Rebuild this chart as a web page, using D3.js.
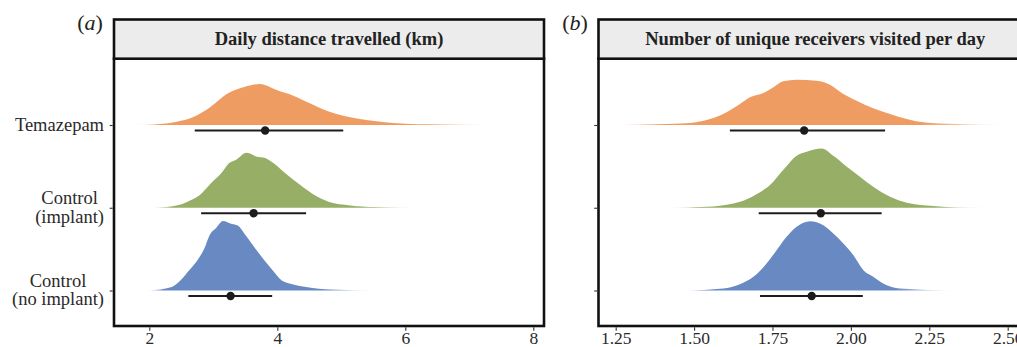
<!DOCTYPE html>
<html><head><meta charset="utf-8">
<script src="https://cdn.jsdelivr.net/npm/d3@7"></script>
<style>html,body{margin:0;padding:0;background:#fff;overflow:hidden}</style>
</head><body><svg id="c" width="1017" height="347"></svg>
<script>
// ---------- data ----------
const categories = ["Temazepam", "Control\n(implant)", "Control\n(no implant)"];
const colors = ["#EF9C62", "#97AE67", "#6889C2"];
const panelTitles = ["Daily distance travelled (km)", "Number of unique receivers visited per day"];
const panelTags = ["a", "b"];
const distTicks = [2, 4, 6, 8];
const recvTicks = [1.25, 1.50, 1.75, 2.00, 2.25, 2.50];

// relative density (peak of tallest slab = 1), [value, density]
const distTemazepam = [[1.75,0],[2.17,0.014],[2.43,0.047],[2.68,0.11],[2.95,0.253],[3.21,0.443],[3.47,0.539],[3.73,0.586],[3.99,0.5],[4.25,0.419],[4.51,0.31],[4.77,0.204],[5.03,0.133],[5.29,0.086],[5.55,0.053],[5.81,0.029],[6.33,0.01],[6.85,0.004],[7.87,0]];
const distImplant = [[2.07,0],[2.46,0.039],[2.63,0.1],[2.79,0.181],[2.96,0.347],[3.13,0.5],[3.24,0.633],[3.35,0.681],[3.52,0.786],[3.57,0.776],[3.68,0.729],[3.80,0.714],[3.91,0.657],[4.13,0.49],[4.36,0.324],[4.58,0.181],[4.80,0.086],[5.14,0.033],[5.53,0.01],[6.20,0]];
const distNoImplant = [[1.98,0],[2.35,0.05],[2.50,0.157],[2.62,0.286],[2.75,0.429],[2.86,0.6],[2.94,0.786],[3.05,0.9],[3.15,0.993],[3.29,0.95],[3.38,0.929],[3.52,0.771],[3.68,0.571],[3.80,0.429],[3.93,0.286],[4.07,0.143],[4.25,0.086],[4.45,0.05],[4.85,0.014],[5.53,0]];
const distLower = [2.71, 2.81, 2.61];
const distMedian = [3.81, 3.63, 3.27];
const distUpper = [5.03, 4.45, 3.92];

const recvTemazepam = [[1.253,0],[1.381,0.01],[1.487,0.029],[1.540,0.071],[1.593,0.157],[1.646,0.3],[1.678,0.396],[1.721,0.457],[1.753,0.539],[1.784,0.624],[1.827,0.647],[1.891,0.633],[1.933,0.576],[1.976,0.443],[2.018,0.347],[2.071,0.239],[2.125,0.157],[2.178,0.086],[2.231,0.039],[2.337,0.014],[2.502,0]];
const recvImplant = [[1.418,0],[1.540,0.014],[1.625,0.061],[1.657,0.1],[1.700,0.196],[1.742,0.324],[1.784,0.539],[1.827,0.743],[1.859,0.8],[1.907,0.847],[1.944,0.743],[1.987,0.586],[2.029,0.443],[2.071,0.3],[2.125,0.157],[2.178,0.071],[2.263,0.024],[2.348,0.004],[2.502,0]];
const recvNoImplant = [[1.471,0],[1.593,0.029],[1.646,0.09],[1.689,0.196],[1.731,0.386],[1.763,0.576],[1.795,0.767],[1.827,0.91],[1.870,0.99],[1.912,0.933],[1.944,0.814],[1.976,0.671],[2.008,0.504],[2.040,0.29],[2.071,0.196],[2.103,0.1],[2.157,0.029],[2.327,0]];
const recvLower = [1.614, 1.706, 1.710];
const recvMedian = [1.851, 1.904, 1.875];
const recvUpper = [2.109, 2.098, 2.038];

// ---------- drawing ----------
const svg = d3.select("#c");
const FONT = "'Liberation Serif','Times New Roman',serif";
const defs = svg.append("defs");

const stripTop = 19.5, stripBottom = 58.7, panelBottom = 326;
const y = d3.scalePoint().domain(categories).range([125, 290.5]);
const h = d3.scaleLinear().domain([0, 1]).range([0, 70]);

function drawPanel(p, idx) {
  const x = d3.scaleLinear().domain(p.domain).range([p.left, p.right]);
  const g = svg.append("g");

  // slabs
  p.densities.forEach((dens, i) => {
    const gid = "grad" + idx + "_" + i;
    const x0 = x(dens[0][0]), x1 = x(dens[dens.length - 1][0]);
    const gr = defs.append("linearGradient").attr("id", gid)
      .attr("gradientUnits", "userSpaceOnUse")
      .attr("x1", x0).attr("x2", x1).attr("y1", 0).attr("y2", 0);
    [[0, 0.1], [0.07, 1], [0.78, 1], [1, 0.15]].forEach(s =>
      gr.append("stop").attr("offset", s[0]).attr("stop-color", colors[i]).attr("stop-opacity", s[1]));
    const area = d3.area()
      .x(d => x(d[0]))
      .y0(0)
      .y1(d => -h(d[1]))
      .curve(d3.curveMonotoneX);
    g.append("path")
      .attr("transform", `translate(0,${y(categories[i])})`)
      .attr("d", area(dens))
      .attr("fill", `url(#${gid})`);
  });

  // intervals
  categories.forEach((c, i) => {
    const yy = y(c) + 5.5;
    g.append("line")
      .attr("x1", x(p.lower[i])).attr("x2", x(p.upper[i]))
      .attr("y1", yy).attr("y2", yy)
      .attr("stroke", "#1c1c1c").attr("stroke-width", 2.2);
    g.append("circle")
      .attr("cx", x(p.median[i])).attr("cy", yy).attr("r", 4.2)
      .attr("fill", "#1c1c1c");
  });

  // panel border & strip
  g.append("rect")
    .attr("x", p.left).attr("y", stripBottom)
    .attr("width", p.right - p.left).attr("height", panelBottom - stripBottom)
    .attr("fill", "none").attr("stroke", "#111").attr("stroke-width", 2.6);
  g.append("rect")
    .attr("x", p.left).attr("y", stripTop)
    .attr("width", p.right - p.left).attr("height", stripBottom - stripTop)
    .attr("fill", "#ECECEC").attr("stroke", "#111").attr("stroke-width", 2.6);
  g.append("text")
    .attr("x", (p.left + p.right) / 2 + p.titleShift)
    .attr("y", 45)
    .attr("text-anchor", "middle")
    .attr("font-family", FONT).attr("font-weight", "bold").attr("font-size", 18.5)
    .attr("fill", "#222")
    .text(p.title);

  // tag "(a)"
  const tag = g.append("text")
    .attr("x", p.tagX).attr("y", 30)
    .attr("text-anchor", "middle")
    .attr("font-family", FONT).attr("font-size", 22).attr("fill", "#222");
  tag.append("tspan").text("(");
  tag.append("tspan").attr("font-style", "italic").text(p.tag);
  tag.append("tspan").text(")");

  // x axis
  const xa = g.append("g").attr("transform", `translate(0,${panelBottom + 1.3})`)
    .call(d3.axisBottom(x).tickValues(p.ticks).tickSize(3.5).tickPadding(0.6)
      .tickFormat(p.fmt));
  xa.select(".domain").remove();
  xa.selectAll("line").attr("stroke", "#333").attr("stroke-width", 1.1);
  xa.selectAll("text").attr("font-family", FONT).attr("font-size", 17.5).attr("fill", "#2a2a2a");

  // y axis ticks
  const ya = g.append("g").attr("transform", `translate(${p.left - 1.3},0)`)
    .call(d3.axisLeft(y).tickSize(3).tickFormat(""));
  ya.select(".domain").remove();
  ya.selectAll("line").attr("stroke", "#333").attr("stroke-width", 1.1);

  if (p.yLabels) {
    const rightEdge = 104;
    categories.forEach(c => {
      const lines = c.split("\n");
      const t = g.append("text")
        .attr("font-family", FONT).attr("font-size", 18.5).attr("fill", "#2a2a2a")
        .attr("text-anchor", "middle");
      const lh = 18.5;
      const cy = y(c);
      const first = cy - (lines.length - 1) * lh / 2 + 5.5;
      const spans = lines.map((l, k) => t.append("tspan").attr("y", first + k * lh).text(l));
      const w = d3.max(spans, s => s.node().getComputedTextLength());
      spans.forEach(s => s.attr("x", rightEdge - w / 2));
    });
  }
}

drawPanel({
  left: 114, right: 544, domain: [2 - (149.3 - 114) / 64, 8 + (544 - 533.3) / 64],
  ticks: distTicks, fmt: d3.format("d"), title: panelTitles[0], titleShift: 0,
  tag: panelTags[0], tagX: 90, yLabels: true,
  densities: [distTemazepam, distImplant, distNoImplant],
  lower: distLower, median: distMedian, upper: distUpper
}, 0);

drawPanel({
  left: 598.5, right: 1026, domain: [1.25 - (615.7 - 598.5) / 313.6, 1.25 + (1026 - 615.7) / 313.6],
  ticks: recvTicks, fmt: d3.format(".2f"), title: panelTitles[1], titleShift: 3,
  tag: panelTags[1], tagX: 575, yLabels: false,
  densities: [recvTemazepam, recvImplant, recvNoImplant],
  lower: recvLower, median: recvMedian, upper: recvUpper
}, 1);
</script>
</body></html>
